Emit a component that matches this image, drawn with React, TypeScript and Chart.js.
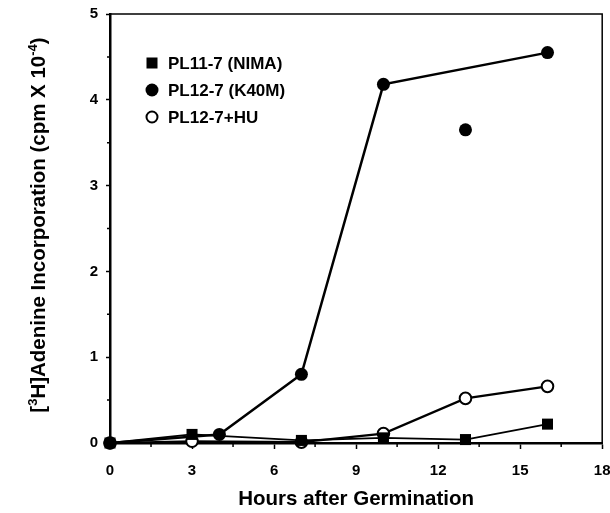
import React, { useEffect, useRef } from "react";
import { Chart, registerables } from "chart.js";

Chart.register(...registerables);

const nimaX = [0, 3, 7, 10, 13, 16];
const nimaY = [0, 0.1, 0.03, 0.06, 0.04, 0.22];
const k40mX = [0, 4, 7, 10, 16];
const k40mY = [0, 0.1, 0.8, 4.18, 4.55];
const k40mOutlierX = [13];
const k40mOutlierY = [3.65];
const huX = [0, 3, 7, 10, 13, 16];
const huY = [0, 0.02, 0.01, 0.11, 0.52, 0.66];
const xTicks = [0, 3, 6, 9, 12, 15, 18];
const yTicks = [0, 1, 2, 3, 4, 5];
const legendLabels = ["PL11-7 (NIMA)", "PL12-7 (K40M)", "PL12-7+HU"];

const FONT = "'Liberation Sans', Arial, Helvetica, sans-serif";

function pts(xs: number[], ys: number[]) {
  return xs.map((x, i) => ({ x, y: ys[i] }));
}

const decorPlugin = {
  id: "decor",
  afterDraw(chart: any) {
    const ctx = chart.ctx;
    const { left, right, top, bottom } = chart.chartArea;
    const xs = chart.scales.x;
    const ys = chart.scales.y;
    ctx.save();
    ctx.strokeStyle = "#000";
    // frame top/right
    ctx.lineWidth = 1.5;
    ctx.beginPath();
    ctx.moveTo(left, top);
    ctx.lineTo(right, top);
    ctx.lineTo(right, bottom);
    ctx.stroke();
    // minor ticks
    ctx.lineWidth = 1.5;
    ctx.beginPath();
    for (let i = 0; i < xTicks.length - 1; i++) {
      const v = (xTicks[i] + xTicks[i + 1]) / 2;
      const px = xs.getPixelForValue(v);
      ctx.moveTo(px, bottom);
      ctx.lineTo(px, bottom + 4);
    }
    for (let i = 0; i < yTicks.length - 1; i++) {
      const v = (yTicks[i] + yTicks[i + 1]) / 2;
      const py = ys.getPixelForValue(v);
      ctx.moveTo(left - 3, py);
      ctx.lineTo(left, py);
    }
    ctx.stroke();

    // legend
    const lx = 152;
    const rows = [63, 90, 117];
    ctx.fillStyle = "#000";
    ctx.fillRect(lx - 5.5, rows[0] - 5.5, 11, 11);
    ctx.beginPath();
    ctx.arc(lx, rows[1], 6.5, 0, Math.PI * 2);
    ctx.fill();
    ctx.beginPath();
    ctx.lineWidth = 2;
    ctx.fillStyle = "#fff";
    ctx.arc(lx, rows[2], 5.5, 0, Math.PI * 2);
    ctx.fill();
    ctx.stroke();
    ctx.fillStyle = "#000";
    ctx.font = `bold 17px ${FONT}`;
    ctx.textBaseline = "middle";
    ctx.textAlign = "left";
    legendLabels.forEach((t, i) => ctx.fillText(t, 168, rows[i] + 1));

    // y title with superscripts
    ctx.translate(45, 225);
    ctx.rotate(-Math.PI / 2);
    const big = `bold 20.5px ${FONT}`;
    const small = `bold 13px ${FONT}`;
    const segs: [string, boolean][] = [
      ["[", false],
      ["3", true],
      ["H]Adenine Incorporation (cpm X 10", false],
      ["-4", true],
      [")", false],
    ];
    let w = 0;
    segs.forEach(([s, sup]) => {
      ctx.font = sup ? small : big;
      w += ctx.measureText(s).width;
    });
    let x = -w / 2;
    ctx.textBaseline = "alphabetic";
    segs.forEach(([s, sup]) => {
      ctx.font = sup ? small : big;
      ctx.fillText(s, x, sup ? -8 : 0);
      x += ctx.measureText(s).width;
    });
    ctx.restore();
  },
};

export default function App() {
  const ref = useRef<HTMLCanvasElement | null>(null);
  useEffect(() => {
    if (!ref.current) return;
    const chart = new Chart(ref.current, {
      type: "scatter",
      data: {
        datasets: [
          {
            label: legendLabels[0],
            data: pts(nimaX, nimaY),
            showLine: true,
            borderColor: "#000",
            borderWidth: 1.8,
            backgroundColor: "#000",
            pointStyle: "rect",
            pointRadius: 7.8,
            pointBorderWidth: 0,
            clip: false as any,
          },
          {
            label: legendLabels[2],
            data: pts(huX, huY),
            showLine: true,
            borderColor: "#000",
            borderWidth: 2.2,
            pointBackgroundColor: "#fff",
            pointBorderColor: "#000",
            pointBorderWidth: 2,
            pointRadius: 5.8,
            clip: false as any,
          },
          {
            label: legendLabels[1],
            data: pts(k40mX, k40mY),
            showLine: true,
            borderColor: "#000",
            borderWidth: 2.5,
            backgroundColor: "#000",
            pointRadius: 6.5,
            pointBorderWidth: 0,
            clip: false as any,
          },
          {
            label: legendLabels[1] + " ",
            data: pts(k40mOutlierX, k40mOutlierY),
            showLine: false,
            backgroundColor: "#000",
            pointRadius: 6.5,
            pointBorderWidth: 0,
            clip: false as any,
          },
        ],
      },
      options: {
        animation: false,
        responsive: true,
        maintainAspectRatio: false,
        layout: { padding: { top: 14, right: 6, left: 0, bottom: 0 } },
        plugins: { legend: { display: false }, tooltip: { enabled: false } },
        scales: {
          x: {
            type: "linear",
            min: 0,
            max: 18,
            afterBuildTicks: (s: any) => {
              s.ticks = xTicks.map((v) => ({ value: v }));
            },
            afterFit: (s: any) => {
              s.height = 70;
              s.paddingRight = 0;
              s.paddingLeft = 0;
            },
            grid: {
              drawOnChartArea: false,
              drawTicks: true,
              tickLength: 6,
              tickColor: "#000",
              tickWidth: 1.5,
            },
            border: { display: true, color: "#000", width: 2.5 },
            ticks: {
              color: "#000",
              padding: 13,
              font: { family: FONT, weight: "bold", size: 15 },
              maxRotation: 0,
            },
            title: {
              display: true,
              text: "Hours after Germination",
              color: "#000",
              font: { family: FONT, weight: "bold", size: 20.5 },
              padding: { top: 0, bottom: 1 },
            },
          },
          y: {
            type: "linear",
            min: 0,
            max: 5,
            afterBuildTicks: (s: any) => {
              s.ticks = yTicks.map((v) => ({ value: v }));
            },
            afterFit: (s: any) => {
              s.width = 110;
              s.paddingTop = 0;
              s.paddingBottom = 0;
            },
            grid: {
              drawOnChartArea: false,
              drawTicks: true,
              tickLength: 4,
              tickColor: "#000",
              tickWidth: 1.5,
            },
            border: { display: true, color: "#000", width: 2.5 },
            ticks: {
              color: "#000",
              padding: 8,
              font: { family: FONT, weight: "bold", size: 15 },
            },
          },
        },
      },
      plugins: [decorPlugin],
    });
    return () => chart.destroy();
  }, []);
  return (
    <div style={{ position: "absolute", left: 0, top: 0, width: 610, height: 513, background: "#fff" }}>
      <canvas ref={ref} />
    </div>
  );
}
